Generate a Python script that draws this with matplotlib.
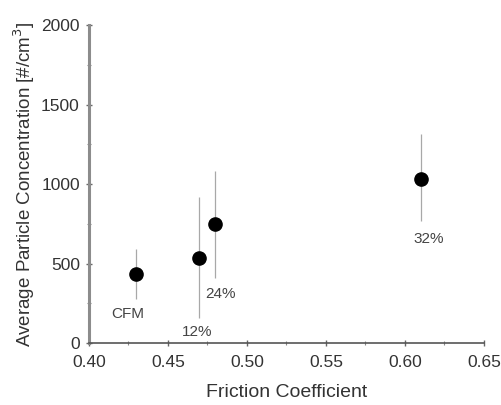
import matplotlib
matplotlib.use("Agg")
import matplotlib.pyplot as plt
from matplotlib.ticker import MultipleLocator

# data
labels = ["CFM", "12%", "24%", "32%"]
friction = [0.43, 0.47, 0.48, 0.61]
conc = [435, 535, 748, 1035]
err_low = [157, 375, 342, 270]
err_high = [158, 385, 333, 283]

# label anchor positions (data coords)
label_x = [0.4247, 0.4687, 0.4835, 0.615]
label_y = [180, 70, 310, 655]

plt.rcParams['font.family'] = ['Liberation Sans', 'DejaVu Sans']

fig = plt.figure(figsize=(5.02, 4.05), dpi=100)
ax = fig.add_axes([0.177, 0.153, 0.787, 0.785])

ax.errorbar(friction, conc, yerr=[err_low, err_high], fmt='o', color='black',
	ecolor='#a8a8a8', elinewidth=0.9, capsize=0, markersize=9.5)

for t, x, y in zip(labels, label_x, label_y):
	ax.text(x, y, t, ha='center', va='center', fontsize=11, color='#444444')

ax.set_xlim(0.40, 0.65)
ax.set_ylim(0, 2000)
ax.xaxis.set_major_locator(MultipleLocator(0.05))
ax.xaxis.set_minor_locator(MultipleLocator(0.025))
ax.yaxis.set_major_locator(MultipleLocator(500))
ax.yaxis.set_minor_locator(MultipleLocator(250))
ax.xaxis.set_major_formatter(matplotlib.ticker.FormatStrFormatter('%.2f'))

for s in ['top', 'right']:
	ax.spines[s].set_visible(False)
ax.spines['left'].set_color('#8c8c8c')
ax.spines['left'].set_linewidth(2.2)
ax.spines['bottom'].set_color('#555555')
ax.spines['bottom'].set_linewidth(1.2)

ax.tick_params(axis='both', which='major', direction='inout', length=5, width=1,
	colors='#666666', labelcolor='#333333', labelsize=12.5)
ax.tick_params(axis='x', which='major', pad=6)
ax.tick_params(axis='y', which='major', pad=4)
ax.tick_params(axis='both', which='minor', direction='inout', length=3, width=0.8,
	colors='#888888')

ax.set_xlabel('Friction Coefficient', fontsize=14, color='#333333', labelpad=10)
ax.set_ylabel('Average Particle Concentration [#/cm$^3$]', fontsize=13.5,
	color='#333333', labelpad=3)

fig.savefig('out.png', dpi=100)
